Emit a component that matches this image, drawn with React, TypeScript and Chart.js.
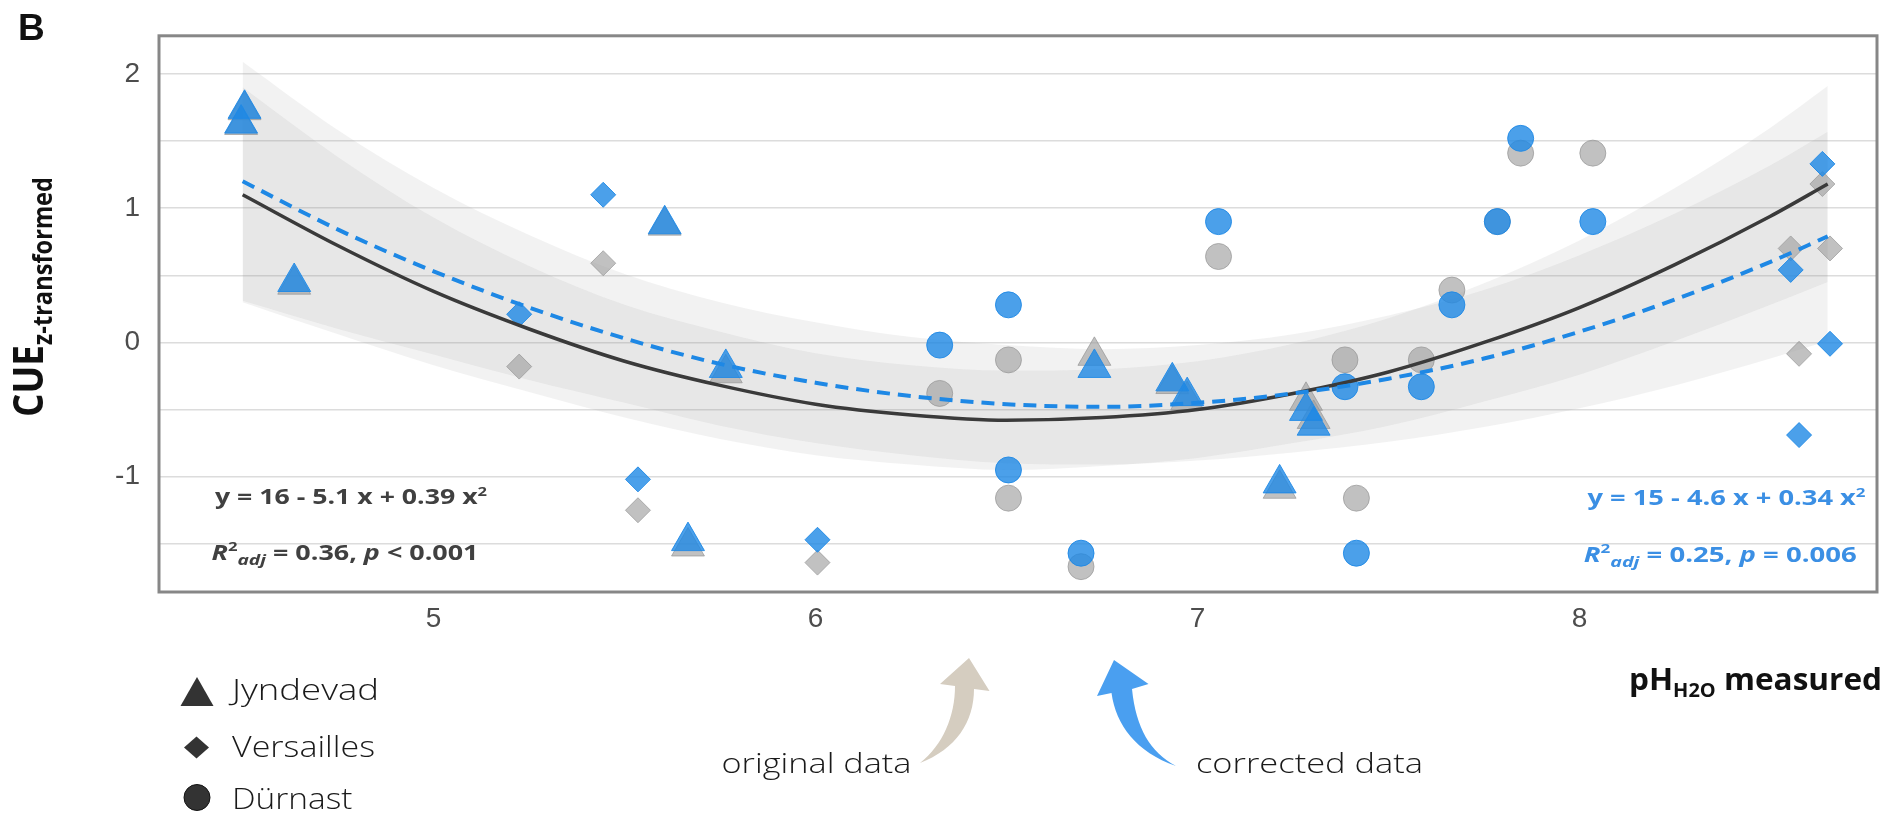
import React, { useEffect, useRef } from 'react';
import { Chart, registerables } from 'chart.js';

Chart.register(...registerables);

// ---------- axis ranges & ticks ----------
const X_MIN = 4.281;
const X_MAX = 8.779;
const Y_MIN = -1.859;
const Y_MAX = 2.284;
const X_TICKS = [5, 6, 7, 8];
const Y_GRID = [-1.5, -1, -0.5, 0, 0.5, 1, 1.5, 2];
const Y_LABELED = [-1, 0, 1, 2];

// ---------- Jyndevad (triangles) ----------
const J_PH = [4.505, 4.496, 4.635, 5.605, 5.765, 5.666, 6.73, 6.934, 6.973, 7.215, 7.284, 7.304];
const J_CUE_ORIG = [1.73, 1.62, 0.43, 0.87, -0.23, -1.52, -0.1, -0.31, -0.43, -1.09, -0.435, -0.57];
const J_CUE_CORR = [1.74, 1.63, 0.45, 0.88, -0.19, -1.48, -0.19, -0.29, -0.4, -1.05, -0.51, -0.62];

// ---------- Versailles (diamonds) ----------
const V_PH = [5.224, 5.444, 5.535, 6.005, 8.636, 8.553, 8.656, 8.575];
const V_CUE_ORIG = [-0.18, 0.59, -1.25, -1.64, 1.18, 0.7, 0.7, -0.085];
const V_CUE_CORR = [0.21, 1.1, -1.02, -1.47, 1.33, 0.54, -0.01, -0.69];

// ---------- Dürnast (circles) ----------
const D_PH = [6.325, 6.505, 6.505, 6.695, 7.055, 7.386, 7.416, 7.586, 7.666, 7.785, 7.846, 8.035];
const D_CUE_ORIG = [-0.38, -0.13, -1.16, -1.67, 0.64, -0.13, -1.16, -0.13, 0.39, 0.9, 1.41, 1.41];
const D_CUE_CORR = [-0.02, 0.28, -0.95, -1.57, 0.9, -0.33, -1.57, -0.33, 0.28, 0.9, 1.52, 0.9];

// ---------- fitted curves & confidence ribbons ----------
const CURVE_X = [4.5, 4.75, 5.0, 5.25, 5.5, 5.75, 6.0, 6.25, 6.5, 6.75, 7.0, 7.25, 7.5, 7.75, 8.0, 8.25, 8.5, 8.65];
const FIT_ORIG = [1.1, 0.72, 0.38, 0.1, -0.14, -0.32, -0.46, -0.54, -0.58, -0.56, -0.5, -0.38, -0.22, 0.0, 0.26, 0.58, 0.94, 1.18];
const FIT_CORR = [1.2, 0.84, 0.53, 0.26, 0.03, -0.16, -0.3, -0.4, -0.46, -0.48, -0.45, -0.38, -0.27, -0.12, 0.08, 0.32, 0.6, 0.79];
const BAND_ORIG_UP = [1.9, 1.38, 0.93, 0.57, 0.28, 0.08, -0.08, -0.17, -0.21, -0.2, -0.14, -0.01, 0.18, 0.44, 0.76, 1.15, 1.6, 1.91];
const BAND_ORIG_LO = [0.3, 0.06, -0.17, -0.37, -0.56, -0.72, -0.84, -0.91, -0.95, -0.92, -0.86, -0.75, -0.62, -0.44, -0.24, 0.01, 0.28, 0.45];
const BAND_CORR_UP = [2.09, 1.58, 1.15, 0.8, 0.51, 0.3, 0.15, 0.04, -0.02, -0.05, -0.02, 0.06, 0.2, 0.39, 0.65, 0.96, 1.32, 1.57];
const BAND_CORR_LO = [0.31, 0.1, -0.09, -0.28, -0.45, -0.62, -0.75, -0.84, -0.9, -0.91, -0.88, -0.82, -0.74, -0.63, -0.49, -0.32, -0.12, 0.01];

// ---------- texts ----------
const EQ_ORIG = 'y = 16 - 5.1 x + 0.39 x';
const EQ_CORR = 'y = 15 - 4.6 x + 0.34 x';
const R2_ORIG = [' = 0.36, ', 'p', ' < 0.001'];
const R2_CORR = [' = 0.25, ', 'p', ' = 0.006'];
const LEGEND_LABELS = ['Jyndevad', 'Versailles', 'Dürnast'];

const BLUE = 'rgba(30,136,229,0.8)';
const BLUE_EDGE = 'rgba(30,136,229,0.9)';
const GREY = 'rgba(160,160,160,0.65)';
const GREY_EDGE = 'rgba(150,150,150,0.7)';
const BAND = 'rgba(153,153,153,0.13)';
const OS = "'Open Sans', 'DejaVu Sans', sans-serif";

const pts = (xs: number[], ys: number[]) => xs.map((x, i) => ({ x, y: ys[i] }));

type Run = { t: string; f: string; dy?: number };

function drawRuns(ctx: CanvasRenderingContext2D, runs: Run[], x: number, y: number, width: number, color: string, rotate = false) {
  ctx.save();
  let total = 0;
  const ws = runs.map((r) => {
    ctx.font = r.f;
    const w = ctx.measureText(r.t).width;
    total += w;
    return w;
  });
  ctx.translate(x, y);
  if (rotate) ctx.rotate(-Math.PI / 2);
  ctx.scale(width / total, 1);
  ctx.fillStyle = color;
  ctx.textAlign = 'left';
  ctx.textBaseline = 'alphabetic';
  let cx = 0;
  runs.forEach((r, i) => {
    ctx.font = r.f;
    ctx.fillText(r.t, cx, r.dy || 0);
    cx += ws[i];
  });
  ctx.restore();
}

const annotPlugin = {
  id: 'annot',
  afterDraw(chart: any) {
    const ctx: CanvasRenderingContext2D = chart.ctx;
    const a = chart.chartArea;
    ctx.save();

    // panel border
    ctx.strokeStyle = '#878787';
    ctx.lineWidth = 3;
    ctx.strokeRect(a.left, a.top, a.right - a.left, a.bottom - a.top);

    // panel letter
    ctx.fillStyle = '#111';
    ctx.font = "bold 37px 'Liberation Sans', Arial, sans-serif";
    ctx.textBaseline = 'alphabetic';
    ctx.textAlign = 'left';
    ctx.fillText('B', 18, 40);

    // y-axis title (rotated)
    drawRuns(ctx, [
      { t: 'CUE', f: `bold 42px ${OS}` },
      { t: 'z-transformed', f: `bold 27px ${OS}`, dy: 9 },
    ], 43, 417, 240, '#111', true);

    // x-axis title
    drawRuns(ctx, [
      { t: 'pH', f: `bold 30px ${OS}` },
      { t: 'H2O', f: `bold 19px ${OS}`, dy: 6.5 },
      { t: ' measured', f: `bold 30px ${OS}` },
    ], 1629, 690, 253, '#111');

    // equations
    const eqF = `bold 21px ${OS}`;
    const eqI = `italic bold 21px ${OS}`;
    const dark = '#404040';
    const blueT = '#3b8fe4';
    drawRuns(ctx, [{ t: EQ_ORIG, f: eqF }, { t: '2', f: `bold 13px ${OS}`, dy: -8 }], 215, 503.5, 272, dark);
    drawRuns(ctx, [
      { t: 'R', f: eqI }, { t: '2', f: `bold 13px ${OS}`, dy: -9 }, { t: 'adj', f: `italic bold 15px ${OS}`, dy: 5 },
      { t: R2_ORIG[0], f: eqF }, { t: R2_ORIG[1], f: eqI }, { t: R2_ORIG[2], f: eqF },
    ], 211.5, 560, 267, dark);
    drawRuns(ctx, [{ t: EQ_CORR, f: eqF }, { t: '2', f: `bold 13px ${OS}`, dy: -8 }], 1587.5, 505, 278, blueT);
    drawRuns(ctx, [
      { t: 'R', f: eqI }, { t: '2', f: `bold 13px ${OS}`, dy: -9 }, { t: 'adj', f: `italic bold 15px ${OS}`, dy: 5 },
      { t: R2_CORR[0], f: eqF }, { t: R2_CORR[1], f: eqI }, { t: R2_CORR[2], f: eqF },
    ], 1583.7, 561.5, 273, blueT);

    // legend symbols
    ctx.fillStyle = '#333';
    ctx.beginPath();
    ctx.moveTo(197, 677);
    ctx.lineTo(213.5, 706);
    ctx.lineTo(180.5, 706);
    ctx.closePath();
    ctx.fill();
    ctx.beginPath();
    ctx.moveTo(196.5, 736.5);
    ctx.lineTo(209, 747.5);
    ctx.lineTo(196.5, 758.5);
    ctx.lineTo(184, 747.5);
    ctx.closePath();
    ctx.fill();
    ctx.beginPath();
    ctx.arc(197, 797.5, 13, 0, Math.PI * 2);
    ctx.fill();
    ctx.strokeStyle = '#111';
    ctx.lineWidth = 1;
    ctx.stroke();

    // legend labels
    const lf = `300 30px ${OS}`;
    drawRuns(ctx, [{ t: LEGEND_LABELS[0], f: lf }], 232, 700, 147, '#1a1a1a');
    drawRuns(ctx, [{ t: LEGEND_LABELS[1], f: lf }], 232, 756.7, 143, '#1a1a1a');
    drawRuns(ctx, [{ t: LEGEND_LABELS[2], f: lf }], 232, 809, 120.5, '#1a1a1a');

    // arrow captions
    const af = `300 27px ${OS}`;
    drawRuns(ctx, [{ t: 'original data', f: af }], 721.5, 772.7, 190, '#1a1a1a');
    drawRuns(ctx, [{ t: 'corrected data', f: af }], 1196, 772.7, 227, '#1a1a1a');

    // beige arrow (original data)
    ctx.fillStyle = '#d5cdc0';
    ctx.beginPath();
    ctx.moveTo(969, 658);
    ctx.lineTo(989.5, 691);
    ctx.lineTo(974, 689);
    ctx.bezierCurveTo(974, 722, 956, 749, 920, 763);
    ctx.bezierCurveTo(943, 745, 955, 716, 955, 686);
    ctx.lineTo(940, 684);
    ctx.closePath();
    ctx.fill();

    // blue arrow (corrected data)
    ctx.fillStyle = '#4a9ff0';
    ctx.beginPath();
    ctx.moveTo(1114, 660);
    ctx.lineTo(1148.5, 684);
    ctx.lineTo(1132, 689);
    ctx.bezierCurveTo(1136, 728, 1150, 752, 1176, 766);
    ctx.bezierCurveTo(1136, 752, 1116, 725, 1111.5, 693);
    ctx.lineTo(1097, 696);
    ctx.closePath();
    ctx.fill();

    ctx.restore();
  },
};

export default function App() {
  const ref = useRef<HTMLCanvasElement | null>(null);

  useEffect(() => {
    if (!ref.current) return;
    const lineBase = { type: 'line' as const, pointRadius: 0, cubicInterpolationMode: 'monotone' as const };
    const chart = new Chart(ref.current, {
      type: 'scatter',
      data: {
        datasets: [
          { ...lineBase, data: pts(CURVE_X, BAND_CORR_UP), borderWidth: 0, borderColor: 'transparent', backgroundColor: BAND, fill: '+1', order: 10 },
          { ...lineBase, data: pts(CURVE_X, BAND_CORR_LO), borderWidth: 0, borderColor: 'transparent', fill: false, order: 10 },
          { ...lineBase, data: pts(CURVE_X, BAND_ORIG_UP), borderWidth: 0, borderColor: 'transparent', backgroundColor: BAND, fill: '+1', order: 9 },
          { ...lineBase, data: pts(CURVE_X, BAND_ORIG_LO), borderWidth: 0, borderColor: 'transparent', fill: false, order: 9 },
          { data: pts(J_PH, J_CUE_ORIG), pointStyle: 'triangle', pointRadius: 19, backgroundColor: GREY, borderColor: GREY_EDGE, borderWidth: 1, order: 5 },
          { data: pts(V_PH, V_CUE_ORIG), pointStyle: 'rectRot', pointRadius: 12.5, backgroundColor: GREY, borderColor: GREY_EDGE, borderWidth: 1, order: 5 },
          { data: pts(D_PH, D_CUE_ORIG), pointStyle: 'circle', pointRadius: 13, backgroundColor: GREY, borderColor: GREY_EDGE, borderWidth: 1, order: 5 },
          { data: pts(J_PH, J_CUE_CORR), pointStyle: 'triangle', pointRadius: 19, backgroundColor: BLUE, borderColor: BLUE_EDGE, borderWidth: 1, order: 4 },
          { data: pts(V_PH, V_CUE_CORR), pointStyle: 'rectRot', pointRadius: 12.5, backgroundColor: BLUE, borderColor: BLUE_EDGE, borderWidth: 1, order: 4 },
          { data: pts(D_PH, D_CUE_CORR), pointStyle: 'circle', pointRadius: 13, backgroundColor: BLUE, borderColor: BLUE_EDGE, borderWidth: 1, order: 4 },
          { ...lineBase, data: pts(CURVE_X, FIT_ORIG), borderColor: '#3a3a3a', borderWidth: 3.5, fill: false, order: 2 },
          { ...lineBase, data: pts(CURVE_X, FIT_CORR), borderColor: '#1e88e5', borderWidth: 4, borderDash: [13, 8], fill: false, order: 1 },
        ] as any,
      },
      options: {
        animation: false,
        responsive: false,
        maintainAspectRatio: false,
        devicePixelRatio: 1,
        events: [],
        layout: { padding: { top: 23, right: 3, left: 0, bottom: 0 } },
        plugins: { legend: { display: false }, tooltip: { enabled: false } },
        scales: {
          x: {
            type: 'linear',
            min: X_MIN,
            max: X_MAX,
            afterBuildTicks: (s: any) => { s.ticks = X_TICKS.map((v) => ({ value: v })); },
            afterFit: (s: any) => { s.height = 223; },
            grid: { display: false, drawTicks: false },
            border: { display: false },
            ticks: {
              padding: 10,
              color: '#4d4d4d',
              font: { family: "'Liberation Sans', Arial, sans-serif", size: 28 },
              callback: (v: any) => String(v),
            },
          },
          y: {
            type: 'linear',
            min: Y_MIN,
            max: Y_MAX,
            afterBuildTicks: (s: any) => { s.ticks = Y_GRID.map((v) => ({ value: v })); },
            afterFit: (s: any) => { s.width = 159; },
            grid: { color: '#dcdcdc', lineWidth: 1.6, drawTicks: false },
            border: { display: false },
            ticks: {
              padding: 19,
              color: '#4d4d4d',
              font: { family: "'Liberation Sans', Arial, sans-serif", size: 28 },
              callback: (v: any) => (Y_LABELED.includes(Number(v)) ? String(v) : ''),
            },
          },
        },
      } as any,
      plugins: [annotPlugin],
    });
    return () => chart.destroy();
  }, []);

  return (
    <div style={{ position: 'absolute', left: 0, top: 0, width: 1897, height: 815, background: '#fff' }}>
      <canvas ref={ref} width={1897} height={815} style={{ width: 1897, height: 815, display: 'block' }} />
    </div>
  );
}
